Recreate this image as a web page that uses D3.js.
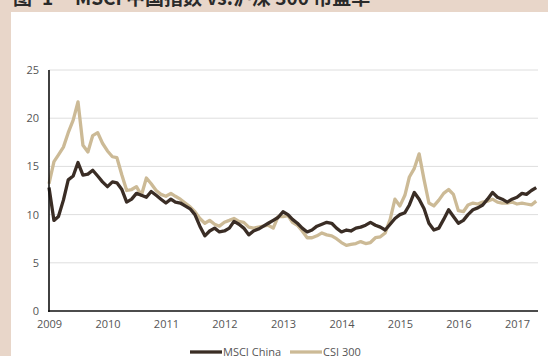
<!DOCTYPE html>
<html>
<head>
<meta charset="utf-8">
<script src="https://cdn.jsdelivr.net/npm/d3@7"></script>
<style>
  body { margin: 0; background: #e8d6c9; }
  svg { display: block; }
</style>
</head>
<body>
<div id="chart"></div>
<script>

var width = 548;
var height = 356;

// monthly P/E readings, Jan 2009 .. May 2017
var startMonth = "2009-01";
var msciChina = [
	12.8, 9.4, 9.8, 11.5, 13.6, 14.0, 15.4, 14.1, 14.2, 14.6, 14.0, 13.4,
	12.9, 13.4, 13.3, 12.6, 11.3, 11.6, 12.2, 12.0, 11.8, 12.4, 12.0, 11.6,
	11.2, 11.6, 11.3, 11.2, 10.9, 10.6, 10.0, 8.8, 7.8, 8.3, 8.6, 8.2,
	8.3, 8.6, 9.3, 9.0, 8.6, 7.9, 8.3, 8.5, 8.8, 9.1, 9.4, 9.7,
	10.3, 10.0, 9.5, 9.1, 8.6, 8.2, 8.4, 8.8, 9.0, 9.2, 9.1, 8.6,
	8.2, 8.4, 8.3, 8.6, 8.7, 8.9, 9.2, 8.9, 8.7, 8.4, 9.0, 9.6,
	10.0, 10.2, 11.0, 12.3, 11.6, 10.6, 9.1, 8.4, 8.6, 9.5, 10.5, 9.8,
	9.1, 9.4, 10.0, 10.5, 10.7, 11.0, 11.6, 12.3, 11.8, 11.6, 11.3, 11.6,
	11.8, 12.2, 12.1, 12.5, 12.8
];
var csi300 = [
	13.2, 15.5, 16.2, 17.0, 18.5, 19.8, 21.7, 17.2, 16.5, 18.2, 18.5, 17.4,
	16.6, 16.0, 15.9, 14.1, 12.5, 12.6, 12.9, 12.0, 13.8, 13.2, 12.5, 12.1,
	11.9, 12.2, 11.9, 11.6, 11.2, 10.8, 10.3, 9.6, 9.1, 9.4, 9.0, 8.8,
	9.2, 9.4, 9.6, 9.3, 9.2, 8.7, 8.6, 8.7, 8.8, 8.9, 8.6, 9.8,
	9.8, 9.9, 9.2, 8.9, 8.3, 7.6, 7.6, 7.8, 8.1, 7.9, 7.8, 7.5,
	7.1, 6.8, 6.9, 7.0, 7.2, 7.0, 7.1, 7.6, 7.7, 8.1, 9.5, 11.6,
	10.9, 12.0, 13.9, 14.8, 16.3, 13.6, 11.2, 10.9, 11.5, 12.2, 12.6, 12.1,
	10.4, 10.3, 11.0, 11.2, 11.1, 11.3, 11.4, 11.6, 11.3, 11.2, 11.2, 11.3,
	11.1, 11.2, 11.1, 11.0, 11.4
];
var yTicks = [0, 5, 10, 15, 20, 25];
var xTicks = ["2009", "2010", "2011", "2012", "2013", "2014", "2015", "2016", "2017"];
var seriesNames = ["MSCI China", "CSI 300"];
var titleParts = ["图", "1", "MSCI 中国指数 vs.沪深 300 市盈率"];

var colors = ["#3a2d25", "#ccba96"];

var parseMonth = d3.timeParse("%Y-%m");
var parseYear = d3.timeParse("%Y");
var first = parseMonth(startMonth);
var dates = msciChina.map(function(v, i) { return d3.timeMonth.offset(first, i); });

var svg = d3.select("#chart")
	.append("svg")
		.attr("width", width)
		.attr("height", height)
		;

// white panel
svg.append("rect")
	.attr("x", 11)
	.attr("y", 12)
	.attr("width", width - 11)
	.attr("height", height - 12)
	.attr("fill", "#ffffff")
	;

// title, mostly cut by the top edge
var titleX = [13, 42, 75];
svg.selectAll("text.title")
	.data(titleParts)
	.enter()
	.append("text")
	.attr("class", "title")
	.attr("x", function(d, i) { return titleX[i]; })
	.attr("y", 5)
	.attr("font-family", "'Noto Sans CJK SC', sans-serif")
	.attr("font-weight", "bold")
	.attr("font-size", "19px")
	.attr("fill", "#2a2a2a")
	.text(function(d) { return d; })
	;

var xScale = d3.scaleTime()
	.domain([parseYear("2009"), parseYear("2017")])
	.range([49, 517])
	;

var yScale = d3.scaleLinear()
	.domain([0, 25])
	.range([311, 70])
	;

// gridlines
svg.selectAll("line.grid")
	.data(yTicks.filter(function(d) { return d > 0; }))
	.enter()
	.append("line")
	.attr("class", "grid")
	.attr("x1", 49)
	.attr("x2", 538)
	.attr("y1", function(d) { return yScale(d); })
	.attr("y2", function(d) { return yScale(d); })
	.attr("stroke", "#dedede")
	.attr("stroke-width", 1)
	;

var line = d3.line()
	.x(function(d, i) { return xScale(dates[i]); })
	.y(function(d) { return yScale(d); })
	;

svg.append("path")
	.datum(csi300)
	.attr("fill", "none")
	.attr("stroke", colors[1])
	.attr("stroke-width", 3.3)
	.attr("stroke-linejoin", "round")
	.attr("d", line)
	;

svg.append("path")
	.datum(msciChina)
	.attr("fill", "none")
	.attr("stroke", colors[0])
	.attr("stroke-width", 3.3)
	.attr("stroke-linejoin", "round")
	.attr("d", line)
	;

// axes
var xAxis = d3.axisBottom(xScale)
	.tickValues(xTicks.map(parseYear))
	.tickFormat(d3.timeFormat("%Y"))
	.tickSize(0)
	.tickPadding(9)
	;

var yAxis = d3.axisLeft(yScale)
	.tickValues(yTicks)
	.tickSize(0)
	.tickPadding(10)
	;

var gx = svg.append("g")
	.attr("transform", "translate(0,311)")
	.call(xAxis)
	;
gx.select(".domain").remove();
gx.append("line")
	.attr("x1", 48)
	.attr("x2", 538)
	.attr("stroke", "#111")
	.attr("stroke-width", 1.6)
	;

var gy = svg.append("g")
	.attr("transform", "translate(49,0)")
	.call(yAxis)
	;
gy.select(".domain").remove();
gy.append("line")
	.attr("y1", 70)
	.attr("y2", 312)
	.attr("stroke", "#111")
	.attr("stroke-width", 1.6)
	;

svg.selectAll(".tick text")
	.attr("font-family", "'Open Sans', sans-serif")
	.attr("font-size", "11px")
	.attr("fill", "#555")
	;

// legend
var legendX = [190, 290];
var legend = svg.selectAll("g.legend")
	.data(seriesNames)
	.enter()
	.append("g")
	.attr("class", "legend")
	.attr("transform", function(d, i) { return "translate(" + legendX[i] + ",352)"; })
	;

legend.append("line")
	.attr("x1", 0)
	.attr("x2", 32)
	.attr("stroke", function(d, i) { return colors[i]; })
	.attr("stroke-width", 3.3)
	;

legend.append("text")
	.attr("x", 33)
	.attr("y", 4)
	.attr("font-family", "'Open Sans', sans-serif")
	.attr("font-size", "11px")
	.attr("fill", "#555")
	.text(function(d) { return d; })
	;

</script>
</body>
</html>
